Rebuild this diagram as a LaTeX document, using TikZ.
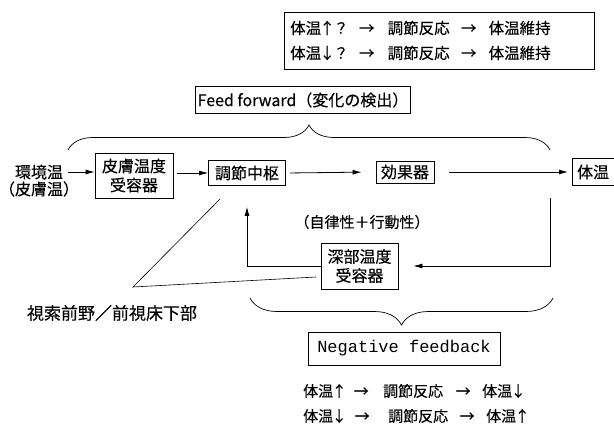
\documentclass[tikz,border=0pt]{standalone}
\usepackage{fontspec}
\setmainfont{Noto Sans CJK JP}[FakeBold=0.3]
\newfontfamily\monofont{Liberation Mono}
\usetikzlibrary{arrows.meta,decorations.pathreplacing,calc}
\newcommand\ar[1]{\makebox[14pt][c]{#1}}
\newcommand\ua[1]{\makebox[12pt][c]{#1}}
\begin{document}
\begin{tikzpicture}[x=1pt,y=-1pt,
  font=\fontsize{16}{19}\selectfont,
  box/.style={draw, line width=0.8pt, inner sep=2pt},
  arr/.style={-{Latex[length=9pt,width=5pt]}, line width=0.8pt},
  ln/.style={line width=0.6pt},
  brc/.style={decorate, line width=0.7pt},
  small/.style={font=\fontsize{15}{18}\selectfont}]
\useasboundingbox (0,0) rectangle (614,426);

% top box
\node[box, anchor=north west, minimum width=310pt, minimum height=57pt] (top) at (284,12) {};
\node[anchor=west, inner sep=0pt, font=\fontsize{15.5}{18}\selectfont] (t1) at (290,28)
  {体温\ua{↑}？\hspace{11pt}\ar{→}\hspace{14pt}調節反応\hspace{12pt}\ar{→}\hspace{13pt}体温維持};
\node[anchor=west, inner sep=0pt, font=\fontsize{15.5}{18}\selectfont] (t2) at (290,53)
  {体温\ua{↓}？\hspace{11pt}\ar{→}\hspace{14pt}調節反応\hspace{12pt}\ar{→}\hspace{13pt}体温維持};

% feed forward
\node[box, minimum width=214pt, minimum height=27pt] (ff) at (303,100) {Feed forward（変化の検出）};
\draw[brc, decoration={brace, amplitude=25pt}] (68,150) -- (550,150);

% main row
\node (env1) at (39,172) {環境温};
\node (env2) at (39,189) {（皮膚温）};
\node[box, minimum width=78pt, minimum height=45pt, align=center] (skin) at (134,175.5) {皮膚温度\\受容器};
\node[box, minimum width=77pt, minimum height=25pt] (ctr) at (247,173) {調節中枢};
\node[box, minimum width=58pt, minimum height=22pt] (eff) at (405,172) {効果器};
\node[box, minimum width=41.5pt, minimum height=27pt, anchor=west] (bt) at (572,172) {体温};

\draw[arr, shorten <=1pt] (env1.east) -- (env1.east -| skin.west);
\draw[arr, shorten <=4pt] (skin.east |- ctr.west) -- (ctr.west);
\draw[arr, shorten <=4pt, shorten >=14pt] (ctr.east) -- (eff.west);
\draw[arr, shorten <=15pt, shorten >=4pt] (eff.east) -- (bt.west);

% feedback
\node[small] (auto) at (362,222) {（自律性＋行動性）};
\node[box, minimum width=77pt, minimum height=46pt, align=center] (deep) at (359.5,266) {深部温度\\受容器};
\coordinate (fbtop) at (550,198);
\draw[arr, shorten >=15pt] (fbtop) |- (deep.east);
\draw[arr, shorten >=21pt] (deep.west) -| (ctr.south);

% pointer lines
\node[font=\fontsize{17}{20}\selectfont] (hyp) at (112,313) {視索前野／前視床下部};
\coordinate (d1) at (220,199);
\coordinate (vtx) at (133,287);
\coordinate (d2) at (316,277);
\draw[ln] (d1) -- (vtx) -- (d2);

% negative feedback
\draw[brc, decoration={brace, amplitude=27pt}] (553,298) -- (250,298);
\node[box, minimum width=192pt, minimum height=33pt, font=\monofont\fontsize{17}{20}\selectfont] (nf) at (404,348.5) {Negative feedback};
\node[small, anchor=west, inner sep=0pt] (l1) at (303,391)
  {体温\ua{↑}\hspace{9pt}\ar{→}\hspace{15pt}調節反応\hspace{13pt}\ar{→}\hspace{12pt}体温\ua{↓}};
\node[small, anchor=west, inner sep=0pt] (l2) at (303,416)
  {体温\ua{↓}\hspace{10pt}\ar{→}\hspace{19pt}調節反応\hspace{12pt}\ar{→}\hspace{12pt}体温\ua{↑}};
\end{tikzpicture}
\end{document}
